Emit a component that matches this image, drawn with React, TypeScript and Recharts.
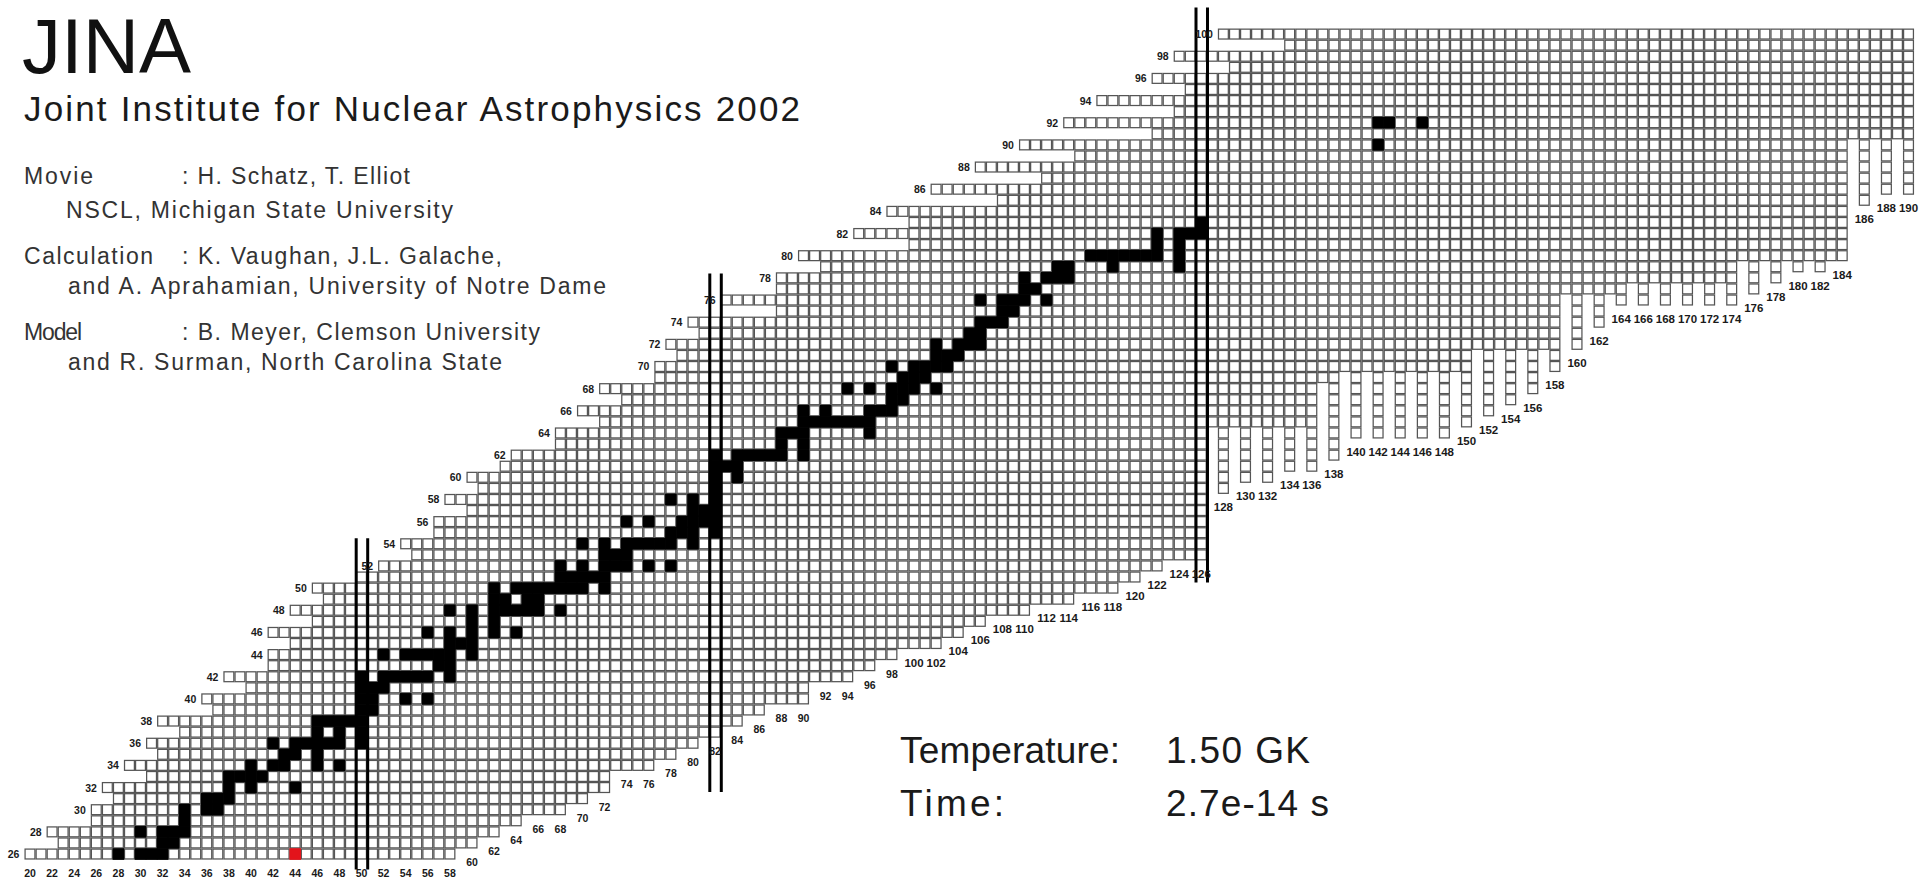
import { ScatterChart, Scatter, XAxis, YAxis } from 'recharts';

const WIDTH = 1920;
const HEIGHT = 880;
const FONT = "'Liberation Sans', Arial, Helvetica, sans-serif";

// neutron number N on x, proton number Z on y
const N_DOMAIN: [number, number] = [17.285, 191.04];
const Z_DOMAIN: [number, number] = [23.656, 103.076];
const CELL_W = WIDTH / (N_DOMAIN[1] - N_DOMAIN[0]);
const CELL_H = HEIGHT / (Z_DOMAIN[1] - Z_DOMAIN[0]);

// first N of every row, Z = 26 ... 100
const Z_FIRST = 26;
const ROW_START = [
  20, 23, 22, 26, 26, 28, 27, 31, 29, 32, // 26-35
  31, 34, 32, 37, 36, 40, 38, 42, 42, 44, // 36-45
  42, 46, 44, 47, 46, 50, 52, 55, 54, 57, // 46-55
  57, 60, 58, 61, 60, 63, 64, 68, 68, 72, // 56-65
  70, 74, 72, 77, 77, 79, 78, 81, 80, 88, // 66-75
  83, 88, 88, 92, 90, 100, 95, 100, 98, 108, // 76-85
  102, 112, 106, 115, 110, 122, 114, 124, 117, 125, // 86-95
  122, 129, 124, 134, 128, // 96-100
];

// lowest Z of every column, N = 20 ... 190
const N_FIRST = 20;
const COL_BOTTOM = [
  26, 26, 26, 26, 26, 26, 26, 26, 26, 26, // 20-29
  26, 26, 26, 26, 26, 26, 26, 26, 26, 26, // 30-39
  26, 26, 26, 26, 26, 26, 26, 26, 26, 26, // 40-49
  26, 26, 26, 26, 26, 26, 26, 26, 26, 27, // 50-59
  27, 28, 28, 29, 29, 30, 30, 30, 30, 31, // 60-69
  31, 32, 32, 34, 34, 34, 34, 35, 35, 36, // 70-79
  36, 37, 37, 38, 38, 39, 39, 40, 40, 40, // 80-89
  40, 42, 42, 42, 42, 43, 43, 44, 44, 45, // 90-99
  45, 45, 45, 46, 46, 47, 47, 48, 48, 48, // 100-109
  48, 49, 49, 49, 49, 50, 50, 50, 50, 51, // 110-119
  51, 52, 52, 53, 53, 53, 53, 65, 59, 65, // 120-129
  60, 65, 60, 65, 61, 65, 61, 69, 62, 70, // 130-139
  64, 70, 64, 70, 64, 70, 64, 70, 64, 70, // 140-149
  65, 72, 66, 72, 67, 72, 68, 72, 70, 77, // 150-159
  72, 77, 74, 77, 76, 78, 76, 78, 76, 78, // 160-169
  76, 78, 76, 78, 76, 80, 77, 80, 78, 80, // 170-179
  79, 80, 79, 80, 80, 91, 85, 91, 86, 91, // 180-189
  86, // 190
];

// abundant nuclei of the frame: [Z, N list]
const PATH: [number, number[]][] = [
  [26, [28, 30, 31, 32]],
  [27, [32, 33]],
  [28, [30, 32, 33, 34]],
  [29, [34]],
  [30, [34, 36, 37]],
  [31, [36, 37, 38]],
  [32, [38, 40, 44]],
  [33, [38, 39, 40, 41]],
  [34, [40, 42, 43, 46, 48]],
  [35, [43, 44, 46]],
  [36, [42, 44, 45, 46, 47, 48, 50]],
  [37, [46, 48, 50]],
  [38, [46, 47, 48, 49, 50]],
  [39, [50, 51]],
  [40, [50, 51, 54, 56]],
  [41, [50, 51, 52]],
  [42, [50, 52, 53, 54, 55, 56, 58]],
  [43, [57, 58]],
  [44, [52, 54, 55, 56, 57, 58, 60]],
  [45, [58, 59, 60]],
  [46, [56, 58, 60, 62, 64]],
  [47, [60, 62]],
  [48, [58, 60, 62, 63, 64, 65, 66, 68]],
  [49, [62, 63, 65, 66]],
  [50, [62, 64, 65, 66, 67, 68, 69, 70, 72]],
  [51, [68, 69, 70, 71, 72]],
  [52, [68, 70, 72, 73, 74, 76, 78]],
  [53, [72, 73, 74]],
  [54, [70, 72, 74, 75, 76, 77, 78, 80]],
  [55, [78, 79, 80, 82]],
  [56, [74, 76, 79, 80, 81, 82]],
  [57, [80, 81, 82]],
  [58, [78, 80, 82]],
  [59, [82]],
  [60, [82, 84]],
  [61, [82, 83, 84]],
  [62, [82, 84, 85, 86, 87, 88, 90]],
  [63, [88, 90]],
  [64, [88, 89, 90, 96]],
  [65, [90, 91, 92, 93, 94, 95, 96]],
  [66, [90, 92, 96, 97, 98]],
  [67, [98, 99]],
  [68, [94, 96, 98, 99, 100, 102]],
  [69, [99, 100, 101]],
  [70, [98, 100, 101, 102, 103]],
  [71, [102, 103, 104]],
  [72, [102, 104, 105, 106]],
  [73, [105, 106]],
  [74, [106, 107, 108]],
  [75, [108, 109]],
  [76, [106, 108, 109, 110, 112]],
  [77, [110, 111]],
  [78, [110, 112, 113, 114]],
  [79, [113, 114, 118, 124]],
  [80, [116, 117, 118, 119, 120, 121, 122, 124]],
  [81, [122, 124]],
  [82, [122, 124, 125, 126]],
  [83, [126]],
  [90, [142]],
  [92, [142, 143, 146]],
];

// seed nucleus drawn in red: [N, Z]
const SEED: [number, number][] = [[44, 26]];

// closed neutron shells and the Z range of their double lines
const MAGIC_N = [50, 82, 126];
const MAGIC_Z_FROM = [24.6, 31.6, 50.5];
const MAGIC_Z_TO = [54.5, 78.4, 102.4];
const MAGIC_EDGES = [-0.48, 0.56];

const CREDITS = [
  { text: 'Movie', x: 24, y: 184, w: 69 },
  { text: ': H. Schatz, T. Elliot', x: 182, y: 184, w: 228 },
  { text: 'NSCL, Michigan State University', x: 66, y: 218, w: 387 },
  { text: 'Calculation', x: 24, y: 264, w: 129 },
  { text: ': K. Vaughan, J.L. Galache,', x: 182, y: 264, w: 320 },
  { text: 'and A. Aprahamian, University of Notre Dame', x: 68, y: 294, w: 538 },
  { text: 'Model', x: 24, y: 340, w: 58 },
  { text: ': B. Meyer, Clemson University', x: 182, y: 340, w: 358 },
  { text: 'and R. Surman, North Carolina State', x: 68, y: 370, w: 434 },
];

const N_LAST = N_FIRST + COL_BOTTOM.length - 1;

const cells: { n: number; z: number }[] = [];
ROW_START.forEach((start, i) => {
  const z = Z_FIRST + i;
  for (let n = start; n <= N_LAST; n++) {
    if (COL_BOTTOM[n - N_FIRST] <= z) cells.push({ n, z });
  }
});

const pathCells = PATH.flatMap(([z, ns]) => ns.map(n => ({ n, z })));
const seedCells = SEED.map(([n, z]) => ({ n, z }));

const zLabels = ROW_START.map((start, i) => ({ n: start, z: Z_FIRST + i, label: String(Z_FIRST + i) }))
  .filter(d => d.z % 2 === 0);
const nLabels = COL_BOTTOM.map((zb, i) => ({ n: N_FIRST + i, z: zb, label: String(N_FIRST + i) }))
  .filter(d => d.n % 2 === 0);

const magicLines = MAGIC_N.flatMap((n, i) =>
  MAGIC_EDGES.map(dx => [
    { n: n + dx, z: MAGIC_Z_FROM[i] },
    { n: n + dx, z: MAGIC_Z_TO[i] },
  ])
);

const CellShape = (props: any) => {
  const { cx, cy } = props;
  if (cx == null || cy == null) return <g />;
  return (
    <rect
      x={cx - CELL_W / 2 + 0.6}
      y={cy - CELL_H / 2 + 0.6}
      width={CELL_W - 1.2}
      height={CELL_H - 1.2}
      fill="#fff"
      stroke="#555"
      strokeWidth={1.25}
    />
  );
};

const filledShape = (color: string) => (props: any) => {
  const { cx, cy } = props;
  if (cx == null || cy == null) return <g />;
  return (
    <rect
      x={cx - CELL_W / 2 - 0.3}
      y={cy - CELL_H / 2 - 0.3}
      width={CELL_W + 0.6}
      height={CELL_H + 0.6}
      fill={color}
    />
  );
};

const ZLabelShape = (props: any) => {
  const { cx, cy, payload } = props;
  if (cx == null || cy == null) return <g />;
  return (
    <text x={cx - CELL_W / 2 - 5} y={cy + 4} textAnchor="end" fontSize={10.5} fontWeight={700}
      fontFamily={FONT} fill="#1a1a1a">
      {payload.label}
    </text>
  );
};

const NLabelShape = (props: any) => {
  const { cx, cy, payload } = props;
  if (cx == null || cy == null) return <g />;
  return (
    <text x={cx} y={cy + 23} textAnchor="middle" fontSize={payload.label.length > 2 ? 11.5 : 10.5}
      fontWeight={600} fontFamily={FONT} fill="#1a1a1a">
      {payload.label}
    </text>
  );
};

const NoShape = () => <g />;

export default function App() {
  return (
    <div style={{ position: 'absolute', left: 0, top: 0, width: WIDTH, height: HEIGHT, background: '#fff', overflow: 'hidden' }}>
      <ScatterChart width={WIDTH} height={HEIGHT} margin={{ top: 0, right: 0, bottom: 0, left: 0 }}>
        <XAxis type="number" dataKey="n" domain={N_DOMAIN} allowDataOverflow hide />
        <YAxis type="number" dataKey="z" domain={Z_DOMAIN} allowDataOverflow hide />
        <Scatter data={cells} shape={CellShape} isAnimationActive={false} />
        <Scatter data={pathCells} shape={filledShape('#000')} isAnimationActive={false} />
        <Scatter data={seedCells} shape={filledShape('#e3141b')} isAnimationActive={false} />
        {magicLines.map((seg, i) => (
          <Scatter
            key={`magic-${i}`}
            data={seg}
            line={{ stroke: '#000', strokeWidth: 3 }}
            shape={NoShape}
            isAnimationActive={false}
          />
        ))}
        <Scatter data={zLabels} shape={ZLabelShape} isAnimationActive={false} />
        <Scatter data={nLabels} shape={NLabelShape} isAnimationActive={false} />
      </ScatterChart>
      <svg width={WIDTH} height={HEIGHT} style={{ position: 'absolute', left: 0, top: 0, pointerEvents: 'none' }}>
        <text x={22} y={73} fontSize={78} fontFamily={FONT} fill="#111">JINA</text>
        <text x={24} y={121} fontSize={35} fontFamily={FONT} fill="#1a1a1a" textLength={776}>
          Joint Institute for Nuclear Astrophysics 2002
        </text>
        {CREDITS.map(c => (
          <text key={c.text} x={c.x} y={c.y} fontSize={23} fontFamily={FONT} fill="#333" textLength={c.w}>
            {c.text}
          </text>
        ))}
        <text x={900} y={763} fontSize={37} fontFamily={FONT} fill="#1a1a1a" textLength={220}>Temperature:</text>
        <text x={1166} y={763} fontSize={37} fontFamily={FONT} fill="#1a1a1a" textLength={144}>1.50 GK</text>
        <text x={900} y={816} fontSize={37} fontFamily={FONT} fill="#1a1a1a" textLength={104}>Time:</text>
        <text x={1166} y={816} fontSize={37} fontFamily={FONT} fill="#1a1a1a" textLength={163}>2.7e-14 s</text>
      </svg>
    </div>
  );
}
